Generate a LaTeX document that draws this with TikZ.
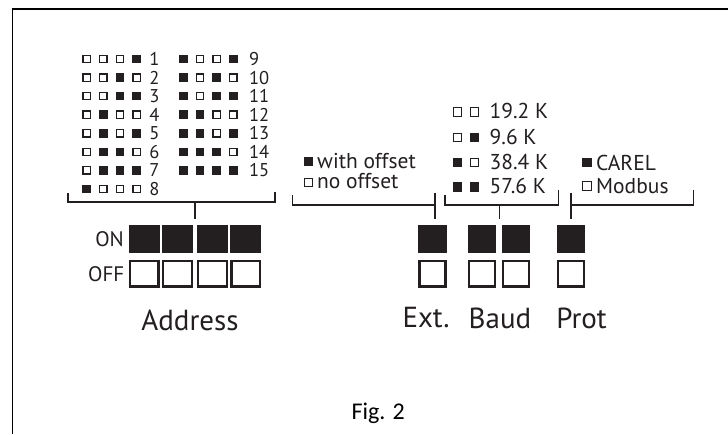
\documentclass[tikz,border=0pt]{standalone}
\usepackage{fontspec}
\newfontfamily\myr{PT Sans}
\newfontfamily\figf{Carlito}
\definecolor{ink}{HTML}{231F20}
\begin{document}
\begin{tikzpicture}[x=1pt,y=-1pt,
  sqon/.style={fill=ink,draw=none,inner sep=0,minimum size=8.5pt},
  sqoff/.style={fill=white,draw=ink,line width=1.2pt,inner sep=0,minimum size=7.3pt},
  bigon/.style={fill=ink,draw=none,inner sep=0,minimum height=28pt},
  bigoff/.style={fill=white,draw=ink,line width=2.4pt,inner sep=0,minimum height=25.5pt},
  lbl/.style={inner sep=0,text=ink,font=\myr\fontsize{18.5}{18.5}\selectfont},
  onoff/.style={inner sep=0,text=ink,font=\myr\fontsize{21}{21}\selectfont},
  leg/.style={inner sep=0,text=ink,font=\myr\fontsize{21.5}{21.5}\selectfont},
  big/.style={inner sep=0,text=ink,font=\myr\fontsize{29}{29}\selectfont},
  br/.style={draw=ink,line width=1.5pt}]
\useasboundingbox (0,0) rectangle (728,434);
% frame
\coordinate (fb) at (12.5,434);
\coordinate (fc) at (12.5,9);
\coordinate (fr) at (728,9);
\draw[black,line width=1.6pt] (fb) -- (fc) -- (fr);
% address table
\foreach \n in {1,...,15}{
  \pgfmathtruncatemacro\col{\n>8 ? 1 : 0}
  \pgfmathtruncatemacro\row{\n>8 ? \n-9 : \n-1}
  \pgfmathsetmacro\ry{59+18.57*\row}
  \pgfmathsetmacro\cx{86.7+96.6*\col}
  \pgfmathsetmacro\lx{\cx+62.5+3*\col}
  \foreach \b [count=\k from 0] in {8,4,2,1}{
    \pgfmathtruncatemacro\bit{mod(floor(\n/\b),2)}
    \ifnum\bit=1
      \node[sqon] (s\n-\k) at (\cx+16.67*\k,\ry) {};
    \else
      \node[sqoff] (s\n-\k) at (\cx+16.67*\k,\ry) {};
    \fi
  }
  \node[lbl,anchor=west] (l\n) at (\lx,\ry) {\n};
}
% address bracket
\coordinate (a1) at (68,193);
\coordinate (a2) at (275,192);
\coordinate (am) at (195,202);
\coordinate (at) at (195,219);
\draw[br] (a1) |- (am) -| (a2);
\draw[br] (am) -- (at);
% address switches
\foreach \x [count=\i] in {144.2,177.5,212.5,245.9}{
  \node[bigon,minimum width=31pt] (aon\i) at (\x,239) {};
  \node[bigoff,minimum width=28.5pt] (aoff\i) at (\x,273.7) {};
}
\node[onoff,anchor=east] (on) at (124,239) {ON};
\node[onoff,anchor=east] (off) at (124.5,273.7) {OFF};
\node[big] (addr) at (190,320) {Address};
% other switches
\foreach \x/\nm in {432.5/ext,481.8/bauda,516.2/baudb,570.8/prot}{
  \node[bigon,minimum width=28.5pt] (\nm on) at (\x,239) {};
  \node[bigoff,minimum width=26pt] (\nm off) at (\x,273.7) {};
}
\node[big] (extl) at (426,318) {Ext.};
\node[big] (baudl) at (500,318) {Baud};
\node[big] (protl) at (581.5,318) {Prot};
% offset legend
\node[sqon,minimum size=9.5pt] (wo) at (308.7,161.5) {};
\node[leg,anchor=base west] (wot) at (317,168.5) {with offset};
\node[sqoff,minimum size=8.3pt] (no) at (308.7,182.5) {};
\node[leg,anchor=base west] (not) at (317,188.5) {no offset};
\coordinate (e1) at (292.7,195);
\coordinate (e2) at (435,205);
\coordinate (e3) at (435,193);
\coordinate (e4) at (435,219);
\draw[br] (e1) |- (e2);
\draw[br] (e3) -- (e4);
% baud legend
\foreach \t/\p/\q/\yb [count=\i] in {19.2 K/0/0/118.5,9.6 K/0/1/144,38.4 K/1/0/169,57.6 K/1/1/193.5}{
  \ifnum\p=1 \node[sqon,minimum size=9.5pt] (b\i a) at (457.5,\yb-6.5) {};
  \else \node[sqoff,minimum size=8.3pt] (b\i a) at (457.5,\yb-6.5) {}; \fi
  \ifnum\q=1 \node[sqon,minimum size=9.5pt] (b\i b) at (474.5,\yb-6.5) {};
  \else \node[sqoff,minimum size=8.3pt] (b\i b) at (474.5,\yb-6.5) {}; \fi
  \node[leg,anchor=base west] (bt\i) at (489.5,\yb) {\t};
}
\coordinate (b1) at (445,195);
\coordinate (bm) at (499.3,205);
\coordinate (b2) at (558.3,190);
\coordinate (bt) at (499.3,219);
\draw[br] (b1) |- (bm) -| (b2);
\draw[br] (bm) -- (bt);
% protocol legend
\node[sqon,minimum size=9.5pt] (ca) at (587,162.5) {};
\node[leg,anchor=base west] (cat) at (596,170) {CAREL};
\node[sqoff,minimum size=8.3pt] (mo) at (587,186) {};
\node[leg,anchor=base west] (mot) at (596,193) {Modbus};
\coordinate (p1) at (571,193);
\coordinate (pm) at (571,205);
\coordinate (p2) at (693.3,190);
\coordinate (pt) at (571,219);
\draw[br] (p1) -- (pt);
\draw[br] (pm) -| (p2);
% caption
\node[inner sep=0,anchor=base east,font=\figf\fontsize{24}{24}\selectfont] (fig) at (405,419) {Fig. 2};
\end{tikzpicture}
\end{document}
